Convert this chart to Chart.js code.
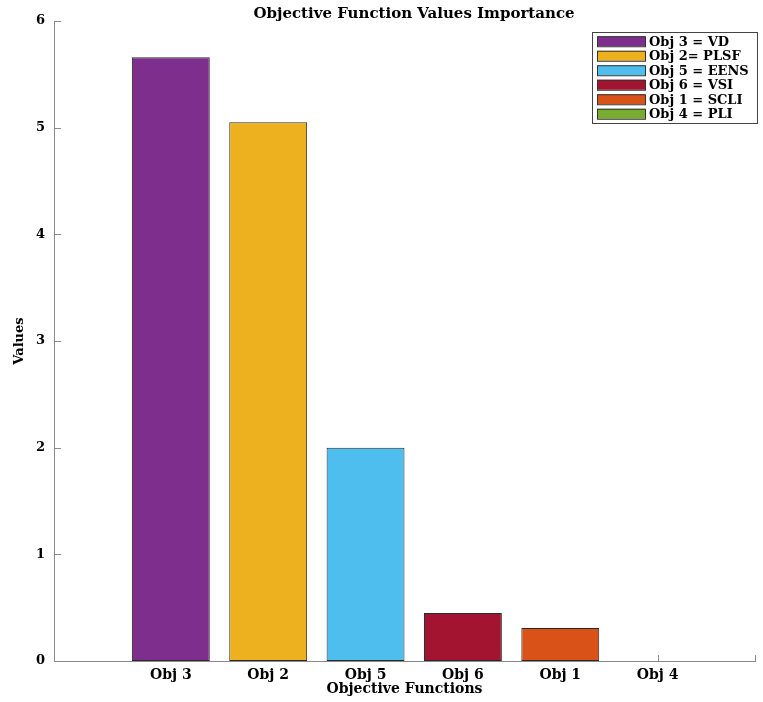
<!DOCTYPE html>
<html>
<head>
<meta charset="utf-8">
<script src="https://cdn.jsdelivr.net/npm/chart.js@4.4.1/dist/chart.umd.min.js"></script>
<style>
  body { margin: 0; background: #fff; }
  #wrap { width: 763px; height: 702px; }
</style>
</head>
<body>
<div id="wrap"><canvas id="myChart"></canvas></div>
<script>
// data
var categories = ["Obj 3", "Obj 2", "Obj 5", "Obj 6", "Obj 1", "Obj 4"];
var values = [5.66, 5.05, 2.0, 0.45, 0.31, 0];
var legendLabels = ["Obj 3 = VD", "Obj 2= PLSF", "Obj 5 = EENS", "Obj 6 = VSI", "Obj 1 = SCLI", "Obj 4 = PLI"];
var barColors = ["#7E2F8E", "#EDB120", "#4DBEEE", "#A2142F", "#D95319", "#77AC30"];
var yTicks = [0, 1, 2, 3, 4, 5, 6];
var chartTitle = "Objective Function Values Importance";

var serif = "'DejaVu Serif', 'Liberation Serif', serif";
var axisGray = "#8a8a8a";

var points = values.map(function (v, i) { return { x: i + 1, y: v }; });

// small inward tick marks, like the matlab axes
var tickMarks = {
  id: "tickMarks",
  beforeDatasetsDraw: function (chart) {
    var ctx = chart.ctx, xs = chart.scales.x, ys = chart.scales.y;
    var a = chart.chartArea;
    ctx.save();
    ctx.strokeStyle = axisGray;
    ctx.lineWidth = 1;
    ctx.beginPath();
    for (var i = 1; i <= categories.length + 1; i++) {
      var px = Math.round(xs.getPixelForValue(i)) + 0.5;
      ctx.moveTo(px, a.bottom);
      ctx.lineTo(px, a.bottom - 6);
    }
    yTicks.forEach(function (t) {
      var py = Math.round(ys.getPixelForValue(t)) + 0.5;
      ctx.moveTo(a.left, py);
      ctx.lineTo(a.left + 7, py);
    });
    ctx.stroke();
    ctx.restore();
  }
};

// title and legend box
var decorations = {
  id: "decorations",
  afterDraw: function (chart) {
    var ctx = chart.ctx;
    var a = chart.chartArea;
    ctx.save();
    ctx.fillStyle = "#000";
    ctx.font = "bold 15px " + serif;
    ctx.textAlign = "center";
    ctx.textBaseline = "middle";
    ctx.fillText(chartTitle, 414, 14);

    var x0 = a.right - 163, y0 = 32, w = 165, rowH = 14.5;
    var h = legendLabels.length * rowH + 4;
    ctx.fillStyle = "#fff";
    ctx.fillRect(x0, y0, w, h);
    ctx.strokeStyle = "#444";
    ctx.lineWidth = 1;
    ctx.strokeRect(x0 + 0.5, y0 + 0.5, w, h);
    ctx.font = "bold 13px " + serif;
    ctx.textAlign = "left";
    for (var i = 0; i < legendLabels.length; i++) {
      var cy = y0 + 2 + rowH * i + rowH / 2;
      ctx.fillStyle = barColors[i];
      ctx.fillRect(x0 + 5, cy - 5, 48, 10);
      ctx.strokeStyle = "#333";
      ctx.strokeRect(x0 + 5.5, cy - 4.5, 48, 10);
      ctx.fillStyle = "#000";
      ctx.fillText(legendLabels[i], x0 + 57, cy + 1);
    }
    ctx.restore();
  }
};

new Chart("myChart", {
  type: "bar",
  data: {
    datasets: [{
      data: points,
      backgroundColor: barColors,
      borderColor: "#2a2a2a",
      borderWidth: 1,
      borderSkipped: false,
      barPercentage: 0.8,
      categoryPercentage: 1
    }]
  },
  options: {
    responsive: true,
    maintainAspectRatio: false,
    animation: false,
    layout: { padding: { left: 0, right: 8, top: 21, bottom: 4 } },
    plugins: {
      legend: { display: false },
      tooltip: { enabled: false },
      title: { display: false }
    },
    scales: {
      x: {
        type: "linear",
        offset: false,
        min: -0.2,
        max: 7,
        afterBuildTicks: function (scale) {
          var t = [];
          for (var i = 1; i <= categories.length + 1; i++) t.push({ value: i });
          scale.ticks = t;
        },
        afterFit: function (scale) { scale.height = 37; },
        grid: { display: false, drawTicks: false, tickLength: 0 },
        border: { display: true, color: axisGray },
        ticks: {
          color: "#000",
          padding: 6,
          maxRotation: 0,
          autoSkip: false,
          font: { family: serif, size: 14, weight: "bold" },
          callback: function (v) { return categories[v - 1] || ""; }
        },
        title: {
          display: true,
          text: "Objective Functions",
          color: "#000",
          font: { family: serif, size: 14, weight: "bold" },
          padding: { top: 0, bottom: 0 }
        }
      },
      y: {
        min: 0,
        max: 6,
        afterFit: function (scale) { scale.width = 54; },
        grid: { display: false, drawTicks: false, tickLength: 0 },
        border: { display: true, color: axisGray },
        ticks: {
          stepSize: 1,
          color: "#000",
          padding: 9,
          font: { family: serif, size: 13, weight: "bold" }
        },
        title: {
          display: true,
          text: "Values",
          color: "#000",
          font: { family: serif, size: 13, weight: "bold" },
          padding: { top: 12, bottom: 0 }
        }
      }
    }
  },
  plugins: [tickMarks, decorations]
});
</script>
</body>
</html>
